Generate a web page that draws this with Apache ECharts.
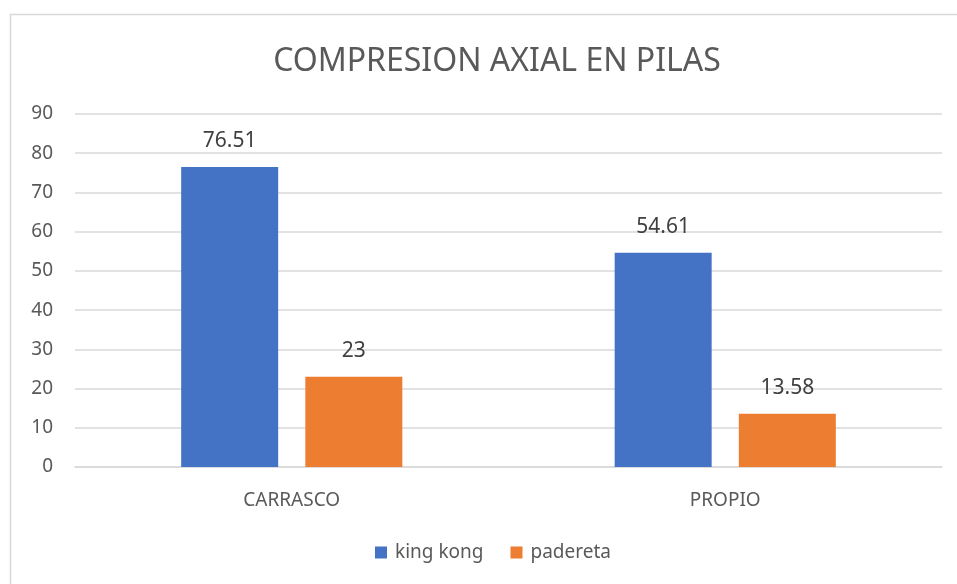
<!DOCTYPE html>
<html>
<head>
<meta charset="utf-8">
<script src="https://cdn.jsdelivr.net/npm/echarts@6/dist/echarts.min.js"></script>
<style>
  html, body { margin: 0; padding: 0; background: #fff; }
  #chart { width: 957px; height: 584px; }
</style>
</head>
<body>
<div id="chart"></div>
<script>
const categories = ['CARRASCO', 'PROPIO']
const kingKong = [76.51, 54.61]
const padereta = [23, 13.58]

const myChart = echarts.init(document.getElementById('chart'))
const font = '"Noto Sans", sans-serif'

const options = {
  backgroundColor: '#fff',
  textStyle: { fontFamily: font },
  graphic: [
    {
      type: 'rect',
      shape: { x: 10.5, y: 14.5, width: 1000, height: 700 },
      style: { fill: 'none', stroke: '#d9d9d9', lineWidth: 1.5 },
      silent: true
    }
  ],
  title: {
    text: 'COMPRESION AXIAL EN PILAS',
    left: 492,
    top: 41,
    textAlign: 'center',
    textStyle: { color: '#595959', fontSize: 32, fontWeight: 'normal', fontFamily: font }
  },
  legend: {
    bottom: 17,
    left: 370,
    itemWidth: 12,
    itemHeight: 12,
    itemGap: 27,
    icon: 'rect',
    textStyle: { color: '#595959', fontSize: 19, fontFamily: font, padding: [0, 0, 0, 3] },
    data: ['king kong', 'padereta']
  },
  grid: { left: 75, right: 15, top: 114, bottom: 117 },
  xAxis: {
    type: 'category',
    data: categories,
    axisLine: { lineStyle: { color: '#d9d9d9', width: 1.5 } },
    axisTick: { show: false },
    axisLabel: { color: '#595959', fontSize: 19, margin: 24, fontFamily: font }
  },
  yAxis: {
    type: 'value',
    min: 0,
    max: 90,
    interval: 10,
    axisLine: { show: false },
    axisTick: { show: false },
    axisLabel: { color: '#595959', fontSize: 19, margin: 22, fontFamily: font },
    splitLine: { lineStyle: { color: '#d9d9d9', width: 1.5 } }
  },
  series: [
    {
      name: 'king kong',
      type: 'bar',
      data: kingKong,
      barWidth: 97,
      barGap: '28%',
      itemStyle: { color: '#4472c4' },
      label: { show: true, position: 'top', distance: 15, color: '#404040', fontSize: 21, fontFamily: font }
    },
    {
      name: 'padereta',
      type: 'bar',
      data: padereta,
      barWidth: 97,
      itemStyle: { color: '#ed7d31' },
      label: { show: true, position: 'top', distance: 15, color: '#404040', fontSize: 21, fontFamily: font }
    }
  ]
}
myChart.setOption(options)
</script>
</body>
</html>
